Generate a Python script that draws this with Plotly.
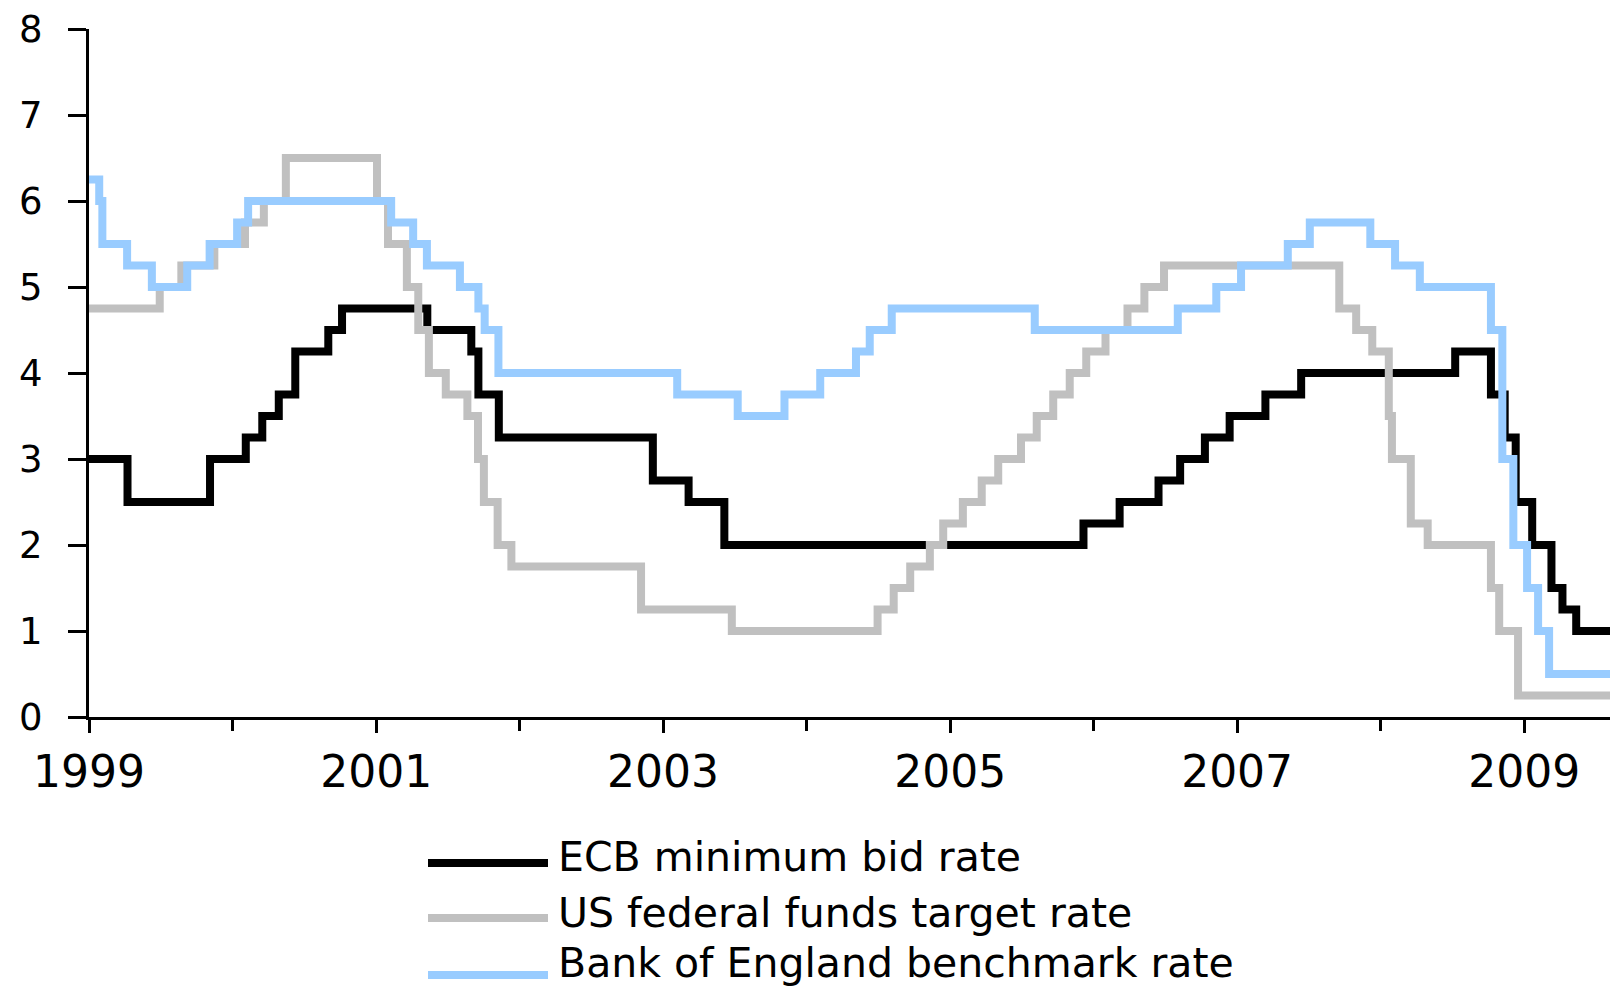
import plotly.graph_objects as go

# ---------------- data (policy rate change dates, %) ----------------
ecb_dates = ["1999-01-01", "1999-04-09", "1999-11-05", "2000-02-04", "2000-03-17",
             "2000-04-28", "2000-06-09", "2000-09-01", "2000-10-06", "2001-05-11",
             "2001-08-31", "2001-09-18", "2001-11-09", "2002-12-06", "2003-03-07",
             "2003-06-06", "2005-12-06", "2006-03-08", "2006-06-15", "2006-08-09",
             "2006-10-11", "2006-12-13", "2007-03-14", "2007-06-13", "2008-07-09",
             "2008-10-08", "2008-11-12", "2008-12-10", "2009-01-21", "2009-03-11",
             "2009-04-08", "2009-05-13"]
ecb_rates = [3.0, 2.5, 3.0, 3.25, 3.5, 3.75, 4.25, 4.5, 4.75, 4.5,
             4.25, 3.75, 3.25, 2.75, 2.5, 2.0, 2.25, 2.5, 2.75, 3.0,
             3.25, 3.5, 3.75, 4.0, 4.25, 3.75, 3.25, 2.5, 2.0, 1.5,
             1.25, 1.0]

us_dates = ["1999-01-01", "1999-06-30", "1999-08-24", "1999-11-16", "2000-02-02",
            "2000-03-21", "2000-05-16", "2001-01-03", "2001-01-31", "2001-03-20",
            "2001-04-18", "2001-05-15", "2001-06-27", "2001-08-21", "2001-09-17",
            "2001-10-02", "2001-11-06", "2001-12-11", "2002-11-06", "2003-06-25",
            "2004-06-30", "2004-08-10", "2004-09-21", "2004-11-10", "2004-12-14",
            "2005-02-02", "2005-03-22", "2005-05-03", "2005-06-30", "2005-08-09",
            "2005-09-20", "2005-11-01", "2005-12-13", "2006-01-31", "2006-03-28",
            "2006-05-10", "2006-06-29", "2007-09-18", "2007-10-31", "2007-12-11",
            "2008-01-22", "2008-01-30", "2008-03-18", "2008-04-30", "2008-10-08",
            "2008-10-29", "2008-12-16"]
us_rates = [4.75, 5.0, 5.25, 5.5, 5.75, 6.0, 6.5, 6.0, 5.5, 5.0,
            4.5, 4.0, 3.75, 3.5, 3.0, 2.5, 2.0, 1.75, 1.25, 1.0,
            1.25, 1.5, 1.75, 2.0, 2.25, 2.5, 2.75, 3.0, 3.25, 3.5,
            3.75, 4.0, 4.25, 4.5, 4.75, 5.0, 5.25, 4.75, 4.5, 4.25,
            3.5, 3.0, 2.25, 2.0, 1.5, 1.0, 0.25]

boe_dates = ["1999-01-01", "1999-01-27", "1999-02-04", "1999-04-08", "1999-06-10",
             "1999-09-08", "1999-11-04", "2000-01-13", "2000-02-10", "2001-02-08",
             "2001-04-05", "2001-05-10", "2001-08-02", "2001-09-18", "2001-10-04",
             "2001-11-08", "2003-02-06", "2003-07-10", "2003-11-06", "2004-02-05",
             "2004-05-06", "2004-06-10", "2004-08-05", "2005-08-04", "2006-08-03",
             "2006-11-09", "2007-01-11", "2007-05-10", "2007-07-05", "2007-12-06",
             "2008-02-07", "2008-04-10", "2008-10-08", "2008-11-06", "2008-12-04",
             "2009-01-08", "2009-02-05", "2009-03-05"]
boe_rates = [6.25, 6.0, 5.5, 5.25, 5.0, 5.25, 5.5, 5.75, 6.0, 5.75,
             5.5, 5.25, 5.0, 4.75, 4.5, 4.0, 3.75, 3.5, 3.75, 4.0,
             4.25, 4.5, 4.75, 4.5, 4.75, 5.0, 5.25, 5.5, 5.75, 5.5,
             5.25, 5.0, 4.5, 3.0, 2.0, 1.5, 1.0, 0.5]

series_names = ["ECB minimum bid rate", "US federal funds target rate",
                "Bank of England benchmark rate"]
series_colors = ["#000000", "#C0C0C0", "#99CCFF"]

x_start = "1999-01-01"
x_end = "2009-08-07"
y_ticks = [0, 1, 2, 3, 4, 5, 6, 7, 8]

# ---------------- figure ----------------
FONT = "DejaVu Sans"
fig = go.Figure()

all_dates = [ecb_dates, us_dates, boe_dates]
all_rates = [ecb_rates, us_rates, boe_rates]
for name, color, d, r in zip(series_names, series_colors, all_dates, all_rates):
    fig.add_trace(go.Scatter(
        x=d + [x_end], y=r + [r[-1]], name=name, mode="lines",
        line=dict(color=color, width=8, shape="hv"),
        cliponaxis=True, showlegend=False,
    ))

# plot-area geometry in pixels (used for manual legend placement)
L, T, B = 89, 29, 717
H = B - T
W = 1610 - L

def py(p):
    return (B - p) / H

def px(p):
    return (p - L) / W

legend_rows = [863, 918, 975]
text_rows = [857, 913, 963]
for name, color, ly, ty in zip(series_names, series_colors, legend_rows, text_rows):
    fig.add_shape(type="line", xref="paper", yref="paper",
                  x0=px(428), x1=px(548), y0=py(ly), y1=py(ly),
                  line=dict(color=color, width=8))
    fig.add_annotation(xref="paper", yref="paper", x=px(556), y=py(ty),
                       text=name, showarrow=False, xanchor="left", yanchor="middle",
                       font=dict(family=FONT, size=41, color="black"))

fig.update_layout(
    width=1610, height=989,
    margin=dict(l=L, r=0, t=T, b=989 - B),
    paper_bgcolor="white", plot_bgcolor="white",
    font=dict(family=FONT, color="black"),
    showlegend=False,
    xaxis=dict(
        type="date", range=[x_start, x_end],
        showline=True, linecolor="black", linewidth=3,
        ticks="outside", ticklen=13, tickwidth=3, tickcolor="black",
        tick0=x_start, dtick="M24", tickformat="%Y",
        tickfont=dict(family=FONT, size=44, color="black"),
        ticklabelstandoff=1,
        showgrid=False, zeroline=False,
        minor=dict(tick0=x_start, dtick="M12", ticks="outside", ticklen=11,
                   tickwidth=3, tickcolor="black", showgrid=False),
    ),
    xaxis2=dict(
        type="date", range=[x_start, x_end], overlaying="x", anchor="y", side="bottom",
        ticks="inside", ticklen=12, tickwidth=3, tickcolor="black",
        tick0=x_start, dtick="M24", showticklabels=False,
        showline=False, showgrid=False, zeroline=False,
    ),
    yaxis=dict(
        range=[0, 8], tickvals=y_ticks,
        showline=True, linecolor="black", linewidth=3,
        ticks="outside", ticklen=18, tickwidth=3, tickcolor="black",
        tickfont=dict(family=FONT, size=37, color="black"),
        ticklabelstandoff=18,
        showgrid=False, zeroline=False,
    ),
)

fig.write_html("out.html", config={"displayModeBar": False},
               post_script="document.body.style.margin='0';")
